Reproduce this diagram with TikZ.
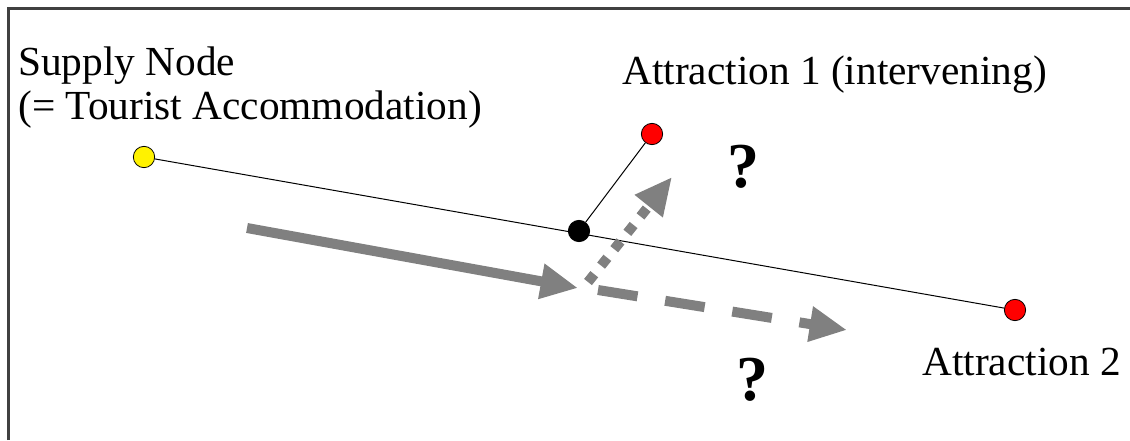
\documentclass[tikz,border=0pt]{standalone}
\usepackage{fontspec}
\setmainfont{Liberation Serif}
\usetikzlibrary{arrows.meta}

\begin{document}
\begin{tikzpicture}[
            x=0.75pt, y=-0.75pt,
            frame/.style={line width=2.25pt, black!75},
            link/.style={line width=0.75pt},
            site/.style={circle, draw, line width=0.6pt, inner sep=0pt, minimum size=16pt},
            caption/.style={inner sep=0pt, font=\fontsize{31}{32.5}\selectfont},
            query/.style={inner sep=0pt, font=\fontsize{48}{50}\selectfont\bfseries},
            flow/.style={line width=7.5pt, gray, -{Triangle[length=28pt, width=25pt]}}
        ]
        \useasboundingbox (0, 0) rectangle (1130, 440);

        % Rahmen
        \draw[frame] (8, 440) -- (8, 8) -- (1130, 8);

        % Knoten
        \node[site, fill=yellow] (supply) at (144, 157) {};
        \node[site, fill=red] (attr1) at (652, 134) {};
        \node[site, fill=red] (attr2) at (1015, 310) {};
        \node[site, fill=black] (junction) at (579, 231) {};

        \draw[link] (supply) -- (attr2);
        \draw[link] (junction) -- (attr1);

        % Beschriftungen
        \node[caption, anchor=north west, align=left] (supplytext) at (18, 47)
            {Supply Node\\(= Tourist Accommodation)};
        \node[caption, anchor=base west] (attr1text) at (622, 84) {Attraction 1 (intervening)};
        \node[caption, anchor=base west] (attr2text) at (922, 375) {Attraction 2};

        % Bewegungspfeile
        \coordinate (flowstart) at (247, 228);
        \coordinate (flowend) at (578, 288);
        \coordinate (upstart) at (588, 282);
        \coordinate (upend) at (672, 177);
        \coordinate (onstart) at (598, 290);
        \coordinate (onend) at (847, 330);

        \draw[flow] (flowstart) -- (flowend);
        \draw[flow, dash pattern=on 7.5pt off 8.25pt] (upstart) -- (upend);
        \draw[flow, dash pattern=on 30pt off 21pt] (onstart) -- (onend);

        \node[query] (q1) at (743, 167) {?};
        \node[query] (q2) at (752, 380) {?};
    \end{tikzpicture}
\end{document}
